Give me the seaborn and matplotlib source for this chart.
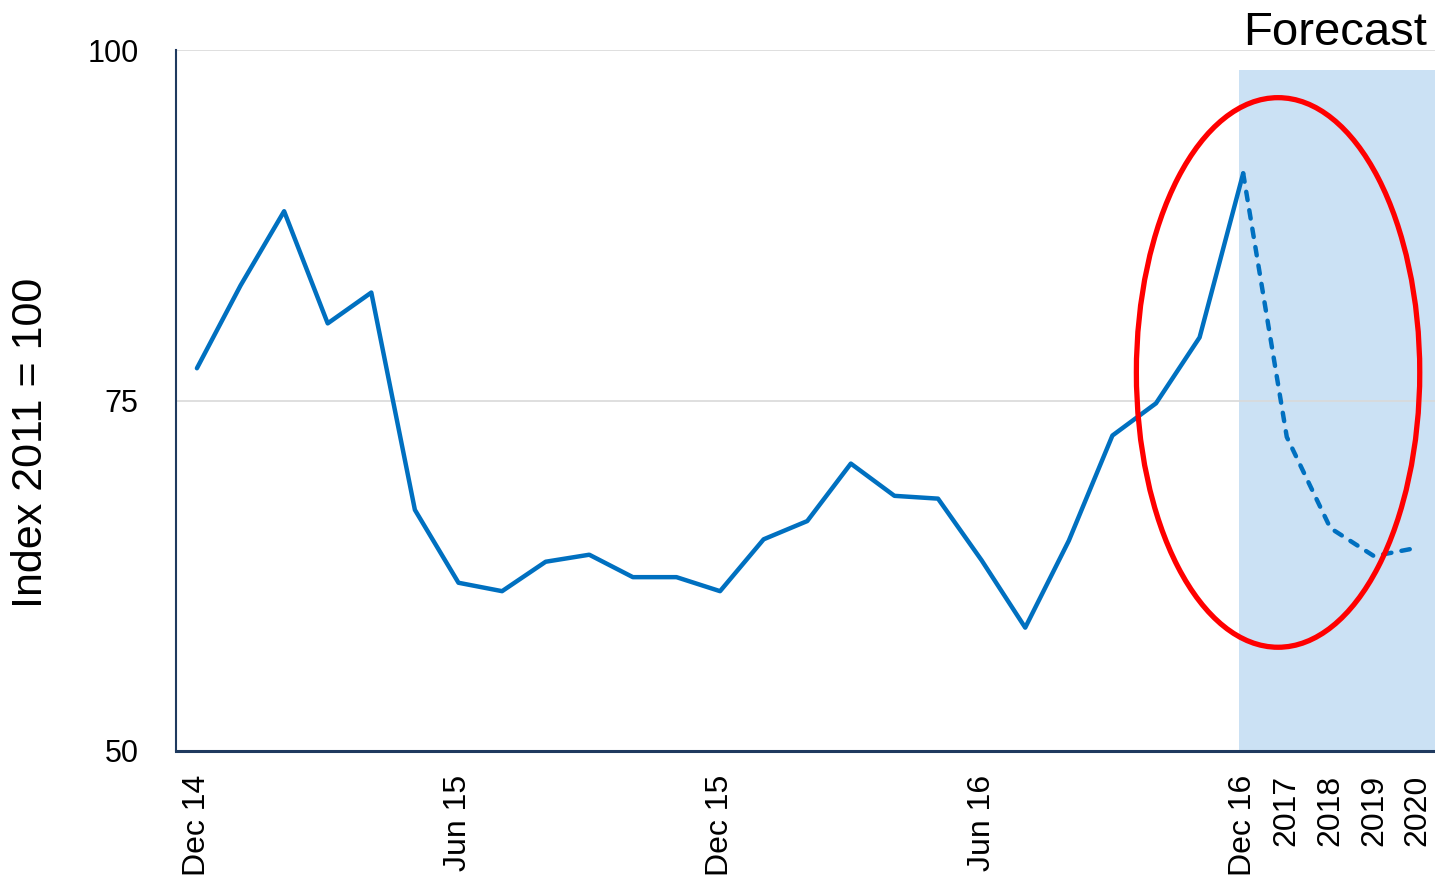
import matplotlib
matplotlib.use("Agg")
import matplotlib.pyplot as plt
from matplotlib.patches import Ellipse
import seaborn as sns
import pandas as pd

# Monthly index values, Dec 2014 - Dec 2016
months = ["Dec 14", "Jan 15", "Feb 15", "Mar 15", "Apr 15", "May 15", "Jun 15",
          "Jul 15", "Aug 15", "Sep 15", "Oct 15", "Nov 15", "Dec 15",
          "Jan 16", "Feb 16", "Mar 16", "Apr 16", "May 16", "Jun 16",
          "Jul 16", "Aug 16", "Sep 16", "Oct 16", "Nov 16", "Dec 16"]
actual = [77.3, 83.2, 88.5, 80.5, 82.7, 67.2, 62.0, 61.4, 63.5, 64.0, 62.4, 62.4, 61.4,
          65.1, 66.4, 70.5, 68.2, 68.0, 63.6, 58.8, 65.0, 72.5, 74.8, 79.5, 91.2]

# Annual forecast, continuing from Dec 16
forecast_years = ["2017", "2018", "2019", "2020"]
forecast = [72.4, 65.9, 63.9, 64.5]

tick_labels = ["Dec 14", "Jun 15", "Dec 15", "Jun 16", "Dec 16", "2017", "2018", "2019", "2020"]

categories = months + forecast_years
pos = {c: i for i, c in enumerate(categories)}

df_actual = pd.DataFrame({"x": [pos[m] for m in months], "y": actual})
df_fc = pd.DataFrame({"x": [pos["Dec 16"]] + [pos[y] for y in forecast_years],
                      "y": [actual[-1]] + forecast})

sns.set_theme(style="white")
plt.rcParams["font.family"] = ["Liberation Sans", "DejaVu Sans"]
plt.rcParams["text.color"] = "black"
plt.rcParams["xtick.color"] = "black"
plt.rcParams["ytick.color"] = "black"
plt.rcParams["axes.labelcolor"] = "black"

fig = plt.figure(figsize=(14.35, 8.75), dpi=100)
ax = fig.add_axes([176 / 1435, 124 / 875, (1435 - 176) / 1435, 701 / 875])

blue = "#0070c0"

# forecast shading
ax.axvspan(pos["Dec 16"] - 0.1, 28.5, ymin=0, ymax=(98.57 - 50) / 50,
           color="#cbe1f4", lw=0, zorder=0)

for yv in (75, 100):
    ax.axhline(yv, color="#d9d9d9", lw=1.2, zorder=0.5)

sns.lineplot(data=df_actual, x="x", y="y", ax=ax, color=blue, lw=3.2, zorder=3)
sns.lineplot(data=df_fc, x="x", y="y", ax=ax, color=blue, lw=3.2, zorder=3,
             linestyle=(0, (1.9, 2.3)), dash_capstyle="round")

ax.add_patch(Ellipse((24.8, 77.0), 6.5, 39.2, fill=False, edgecolor="#ff0000",
                     lw=3.8, zorder=4))

ax.set_xlim(-0.48, 28.4)
ax.set_ylim(50, 100)
ax.set_yticks([50, 75, 100])
ax.set_yticklabels(["50", "75", "100"], fontsize=22)
ax.set_xticks([pos[t] for t in tick_labels])
ax.set_xticklabels(tick_labels, rotation=90, fontsize=23, va="top", ha="center")
ax.tick_params(axis="x", length=0, pad=17)
ax.tick_params(axis="y", length=0, pad=27)
ax.set_xlabel("")
ax.set_ylabel("Index 2011 = 100", fontsize=31, va="center")
ax.yaxis.set_label_coords((31 - 176) / 1259, (751 - 443) / 701)

for s in ("top", "right"):
    ax.spines[s].set_visible(False)
ax.spines["left"].set_color("#1f3a5f")
ax.spines["bottom"].set_color("#1f3a5f")
ax.spines["left"].set_linewidth(1.5)
ax.spines["bottom"].set_linewidth(2.2)

fig.text(1427 / 1435, 1 - 33 / 875, "Forecast", fontsize=34, ha="right", va="center")

fig.savefig("out.png", dpi=100)
